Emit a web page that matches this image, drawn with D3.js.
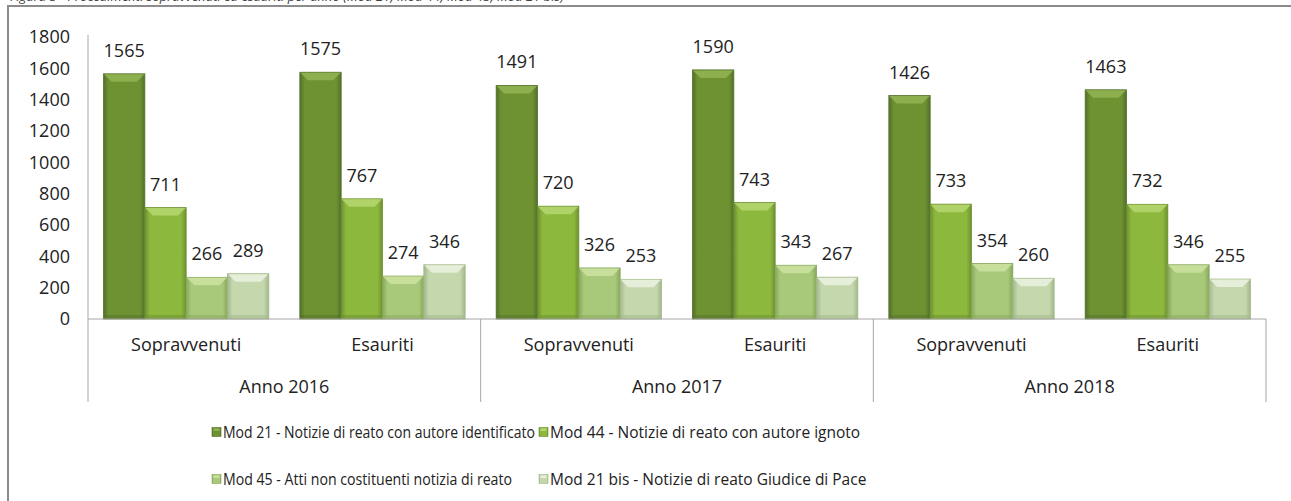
<!DOCTYPE html>
<html>
<head>
<meta charset="utf-8">
<script src="https://cdn.jsdelivr.net/npm/d3@7"></script>
<style>
  body { margin: 0; background: #fff; }
  svg { display: block; font-family: "Open Sans", sans-serif; }
</style>
</head>
<body>
<div id="chart"></div>
<script>
var W = 1291, H = 501;

// data
var years = ['Anno 2016', 'Anno 2017', 'Anno 2018'];
var phases = ['Sopravvenuti', 'Esauriti'];
var seriesNames = [
    'Mod 21 - Notizie di reato con autore identificato',
    'Mod 44 - Notizie di reato con autore ignoto',
    'Mod 45 - Atti non costituenti notizia di reato',
    'Mod 21 bis - Notizie di reato Giudice di Pace'
];
var mod21    = [1565, 1575, 1491, 1590, 1426, 1463];
var mod44    = [711, 767, 720, 743, 733, 732];
var mod45    = [266, 274, 326, 343, 354, 346];
var mod21bis = [289, 346, 253, 267, 260, 255];
var yTicks = [0, 200, 400, 600, 800, 1000, 1200, 1400, 1600, 1800];

var seriesValues = [mod21, mod44, mod45, mod21bis];
// edge, middle, top bevel
var palette = [
    ['#52702a', '#6e9232', '#90b250'],
    ['#6c9030', '#8db83e', '#b4d66e'],
    ['#87a75a', '#a8c87a', '#cae19e'],
    ['#a2b78a', '#c4d7ad', '#e9f1dd']
];

var categories = [];
years.forEach(function(y){
    phases.forEach(function(p){ categories.push(y + '|' + p); });
});

var svg = d3.select('#chart').append('svg')
    .attr('width', W)
    .attr('height', H);

var defs = svg.append('defs');
palette.forEach(function(c, i){
    var g = defs.append('linearGradient')
        .attr('id', 'grad' + i)
        .attr('x1', '0%').attr('x2', '100%')
        .attr('y1', '0%').attr('y2', '0%');
    g.append('stop').attr('offset', '0%').attr('stop-color', c[0]);
    g.append('stop').attr('offset', '12%').attr('stop-color', c[1]);
    g.append('stop').attr('offset', '88%').attr('stop-color', c[1]);
    g.append('stop').attr('offset', '100%').attr('stop-color', c[0]);
});

// outer frame (runs off the right and bottom edges)
svg.append('rect')
    .attr('x', 8).attr('y', 6)
    .attr('width', W + 20).attr('height', H + 20)
    .attr('fill', 'none')
    .attr('stroke', '#8c8c8c')
    .attr('stroke-width', 2);

// title, only its lower edge shows in the reference
svg.append('text')
    .attr('x', 10).attr('y', 1)
    .attr('font-size', 13)
    .attr('font-style', 'italic')
    .attr('fill', '#404040')
    .text('Figura 5 - Procedimenti sopravvenuti ed esauriti per anno (Mod 21, Mod 44, Mod 45, Mod 21 bis)');

var plotLeft = 88, plotRight = 1266, baseY = 319, topY = 37;

var x = d3.scaleBand()
    .domain(categories)
    .range([plotLeft, plotRight])
    .paddingInner(0.158)
    .paddingOuter(0.079);

var xs = d3.scaleBand()
    .domain(d3.range(seriesValues.length))
    .range([0, x.bandwidth()]);

var xYear = d3.scaleBand()
    .domain(years)
    .range([plotLeft, plotRight]);

var y = d3.scaleLinear()
    .domain([0, 1800])
    .range([baseY, topY]);

// y axis
var yAxis = svg.append('g')
    .attr('transform', 'translate(' + plotLeft + ',0)')
    .call(d3.axisLeft(y).tickValues(yTicks).tickFormat(d3.format('d')).tickSize(0).tickPadding(18));
yAxis.select('.domain').remove();
yAxis.selectAll('text')
    .attr('font-size', 18)
    .attr('font-family', '"Open Sans", sans-serif')
    .attr('fill', '#222');

svg.append('line')
    .attr('x1', plotLeft).attr('x2', plotLeft)
    .attr('y1', y(1800) - 2).attr('y2', baseY)
    .attr('stroke', '#a6a6a6');

// bars
var bars = svg.append('g');
seriesValues.forEach(function(vals, s){
    var g = bars.append('g');
    var items = g.selectAll('g.bar')
        .data(categories.map(function(c, i){ return { cat: c, v: vals[i] }; }))
        .enter().append('g')
        .attr('class', 'bar');

    items.append('rect')
        .attr('x', function(d){ return x(d.cat) + xs(s); })
        .attr('y', function(d){ return y(d.v); })
        .attr('width', xs.bandwidth())
        .attr('height', function(d){ return baseY - y(d.v); })
        .attr('fill', 'url(#grad' + s + ')')
        .attr('stroke', palette[s][0])
        .attr('stroke-width', 0.8);

    // top bevel
    items.append('polygon')
        .attr('points', function(d){
            var x0 = x(d.cat) + xs(s), x1 = x0 + xs.bandwidth(), t = y(d.v), b = 8;
            return [[x0 + 0.5, t + 0.5], [x1 - 0.5, t + 0.5], [x1 - b, t + b], [x0 + b, t + b]].join(' ');
        })
        .attr('fill', palette[s][2])
        .attr('opacity', 0.9);

    // bottom shade
    items.append('rect')
        .attr('x', function(d){ return x(d.cat) + xs(s) + 1; })
        .attr('y', baseY - 4)
        .attr('width', xs.bandwidth() - 2)
        .attr('height', 4)
        .attr('fill', palette[s][0])
        .attr('opacity', 0.5);

    items.append('text')
        .attr('x', function(d){ return x(d.cat) + xs(s) + xs.bandwidth() / 2; })
        .attr('y', function(d){ return y(d.v) - 17; })
        .attr('text-anchor', 'middle')
        .attr('font-size', 18)
        .attr('fill', '#222')
        .text(function(d){ return d.v; });
});

// category axis
var axisG = svg.append('g');
axisG.append('line')
    .attr('x1', plotLeft).attr('x2', plotRight)
    .attr('y1', baseY).attr('y2', baseY)
    .attr('stroke', '#a6a6a6');

var sepX = [plotLeft].concat(years.map(function(yr){ return xYear(yr) + xYear.bandwidth(); }));
axisG.selectAll('line.sep')
    .data(sepX)
    .enter().append('line')
    .attr('class', 'sep')
    .attr('x1', function(d){ return d; }).attr('x2', function(d){ return d; })
    .attr('y1', baseY).attr('y2', 402)
    .attr('stroke', '#a6a6a6');

axisG.selectAll('text.phase')
    .data(categories)
    .enter().append('text')
    .attr('class', 'phase')
    .attr('x', function(d){ return x(d) + x.bandwidth() / 2; })
    .attr('y', 351)
    .attr('text-anchor', 'middle')
    .attr('font-size', 18)
    .attr('fill', '#222')
    .text(function(d){ return d.split('|')[1]; });

axisG.selectAll('text.year')
    .data(years)
    .enter().append('text')
    .attr('class', 'year')
    .attr('x', function(d){ return xYear(d) + xYear.bandwidth() / 2; })
    .attr('y', 393)
    .attr('text-anchor', 'middle')
    .attr('font-size', 18)
    .attr('fill', '#222')
    .text(function(d){ return d; });

// legend, two rows of two
var legendX = [212, 539], legendY = [432, 479];
var legendMaxW = [312, 0, 289, 0];   // left column texts are narrower in the reference
var legend = svg.append('g');
seriesNames.forEach(function(name, i){
    var lx = legendX[i % 2], ly = legendY[Math.floor(i / 2)];
    legend.append('rect')
        .attr('x', lx).attr('y', ly - 4.5)
        .attr('width', 9).attr('height', 9)
        .attr('fill', 'url(#grad' + i + ')')
        .attr('stroke', palette[i][0])
        .attr('stroke-width', 0.6);
    legend.append('rect')
        .attr('x', lx + 1.5).attr('y', ly - 3.5)
        .attr('width', 6).attr('height', 2.5)
        .attr('fill', palette[i][2]);
    var t = legend.append('text')
        .attr('x', lx + 11).attr('y', ly + 5.5)
        .attr('font-size', 15.5)
        .attr('fill', '#222')
        .text(name);
    if (legendMaxW[i] && t.node().getComputedTextLength() > legendMaxW[i])
        t.attr('textLength', legendMaxW[i]).attr('lengthAdjust', 'spacingAndGlyphs');
});
</script>
</body>
</html>
